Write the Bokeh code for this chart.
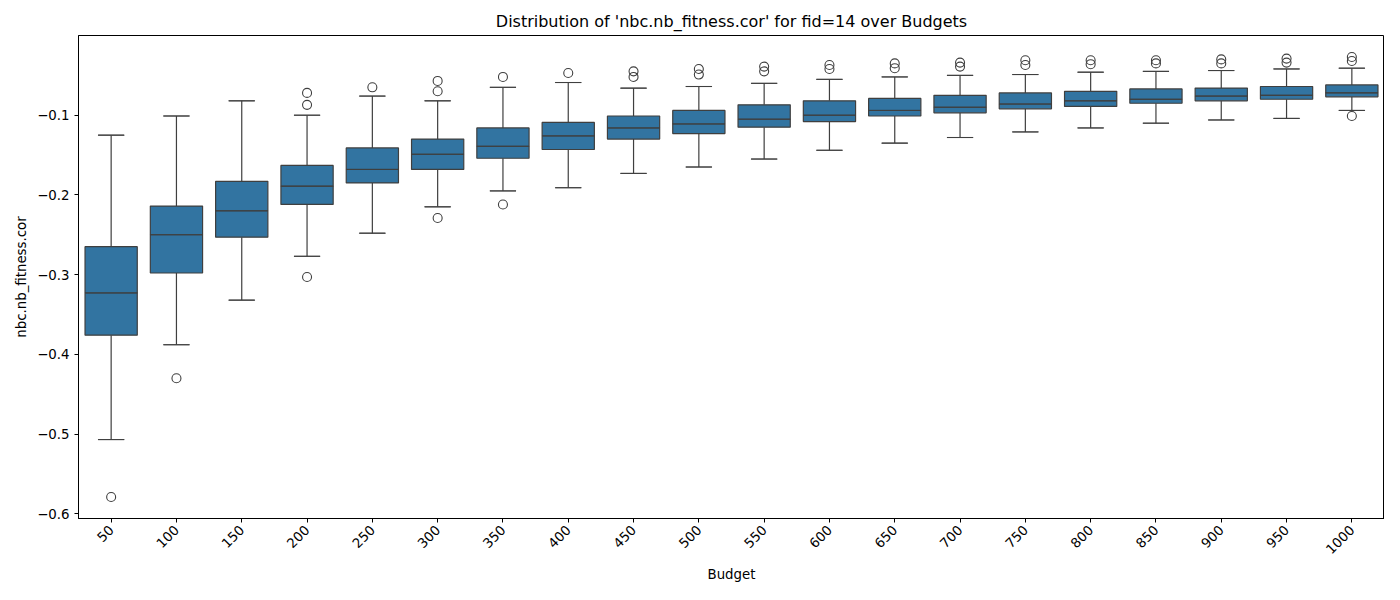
from bokeh.plotting import figure
from bokeh.models import ColumnDataSource, Range1d, FixedTicker
from bokeh.embed import file_html
from bokeh.resources import INLINE
import math

budgets = [str(b) for b in range(50, 1001, 50)]
whisker_hi = [-0.125, -0.101, -0.082, -0.100, -0.076, -0.082, -0.065, -0.059, -0.066, -0.064,
              -0.060, -0.055, -0.052, -0.050, -0.049, -0.046, -0.045, -0.044, -0.042, -0.041]
q3 = [-0.265, -0.214, -0.183, -0.163, -0.141, -0.130, -0.116, -0.109, -0.101, -0.094,
      -0.087, -0.082, -0.079, -0.075, -0.072, -0.070, -0.067, -0.066, -0.064, -0.062]
median = [-0.323, -0.250, -0.220, -0.189, -0.168, -0.149, -0.139, -0.126, -0.116, -0.111,
          -0.105, -0.100, -0.094, -0.090, -0.086, -0.082, -0.080, -0.076, -0.075, -0.072]
q1 = [-0.376, -0.298, -0.253, -0.212, -0.185, -0.168, -0.154, -0.143, -0.130, -0.123,
      -0.115, -0.108, -0.101, -0.097, -0.092, -0.089, -0.085, -0.082, -0.080, -0.077]
whisker_lo = [-0.507, -0.388, -0.332, -0.277, -0.248, -0.215, -0.195, -0.191, -0.173, -0.165,
              -0.155, -0.144, -0.135, -0.128, -0.121, -0.116, -0.110, -0.106, -0.104, -0.094]
outliers = {
    "50": [-0.579], "100": [-0.430], "200": [-0.072, -0.087, -0.303], "250": [-0.065],
    "300": [-0.057, -0.070, -0.229], "350": [-0.052, -0.212], "400": [-0.047],
    "450": [-0.045, -0.052], "500": [-0.042, -0.049], "550": [-0.039, -0.045],
    "600": [-0.037, -0.042], "650": [-0.035, -0.041], "700": [-0.034, -0.039],
    "750": [-0.031, -0.037], "800": [-0.031, -0.036], "850": [-0.031, -0.035],
    "900": [-0.030, -0.035], "950": [-0.029, -0.034], "1000": [-0.027, -0.032, -0.101],
}

src = ColumnDataSource(dict(b=budgets, hi=whisker_hi, q3=q3, med=median, q1=q1, lo=whisker_lo))
ox, oy = [], []
for k, vals in outliers.items():
    for v in vals:
        ox.append(k)
        oy.append(v)

p = figure(x_range=budgets, width=1384, height=584, output_backend="svg", toolbar_location=None,
           title="Distribution of 'nbc.nb_fitness.cor' for fid=14 over Budgets",
           min_border_left=78, min_border_right=0, min_border_top=35, min_border_bottom=20)
p.y_range = Range1d(-0.606, 0.0)
line = "#3f3f3f"
p.segment(x0="b", x1="b", y0="q3", y1="hi", source=src, line_color=line, line_width=1.2)
p.segment(x0="b", x1="b", y0="lo", y1="q1", source=src, line_color=line, line_width=1.2)
p.vbar(x="b", bottom="q1", top="q3", width=0.8, source=src, fill_color="#3274a1", line_color=line, line_width=1.2)
p.rect(x="b", y="med", width=0.8, height=0.0001, source=src, line_color=line, fill_color=line, line_width=1)
p.rect(x="b", y="hi", width=0.4, height=0.0001, source=src, line_color=line, fill_color=line, line_width=1)
p.rect(x="b", y="lo", width=0.4, height=0.0001, source=src, line_color=line, fill_color=line, line_width=1)
p.scatter(x=ox, y=oy, size=9, fill_color=None, line_color=line, line_width=1.1)

p.title.align = "center"
p.title.text_font_style = "normal"
p.title.text_font_size = "12pt"
p.title.text_font = "DejaVu Sans"
p.title.text_color = "black"
p.xgrid.grid_line_color = None
p.ygrid.grid_line_color = None
p.outline_line_color = "black"
p.yaxis.ticker = FixedTicker(ticks=[-0.6, -0.5, -0.4, -0.3, -0.2, -0.1])
p.xaxis.major_label_orientation = math.pi / 4
p.xaxis.axis_label = "Budget"
p.yaxis.axis_label = "nbc.nb_fitness.cor"
for ax in (p.xaxis, p.yaxis):
    ax.axis_label_text_font_style = "normal"
    ax.axis_label_text_font = "DejaVu Sans"
    ax.axis_label_text_font_size = "10pt"
    ax.axis_label_text_color = "black"
    ax.major_label_text_font = "DejaVu Sans"
    ax.major_label_text_font_size = "10pt"
    ax.major_label_text_color = "black"
    ax.minor_tick_line_color = None
    ax.major_tick_in = 0
    ax.major_tick_out = 4
    ax.axis_line_color = "black"

open("out.html", "w").write(file_html(p, INLINE))
